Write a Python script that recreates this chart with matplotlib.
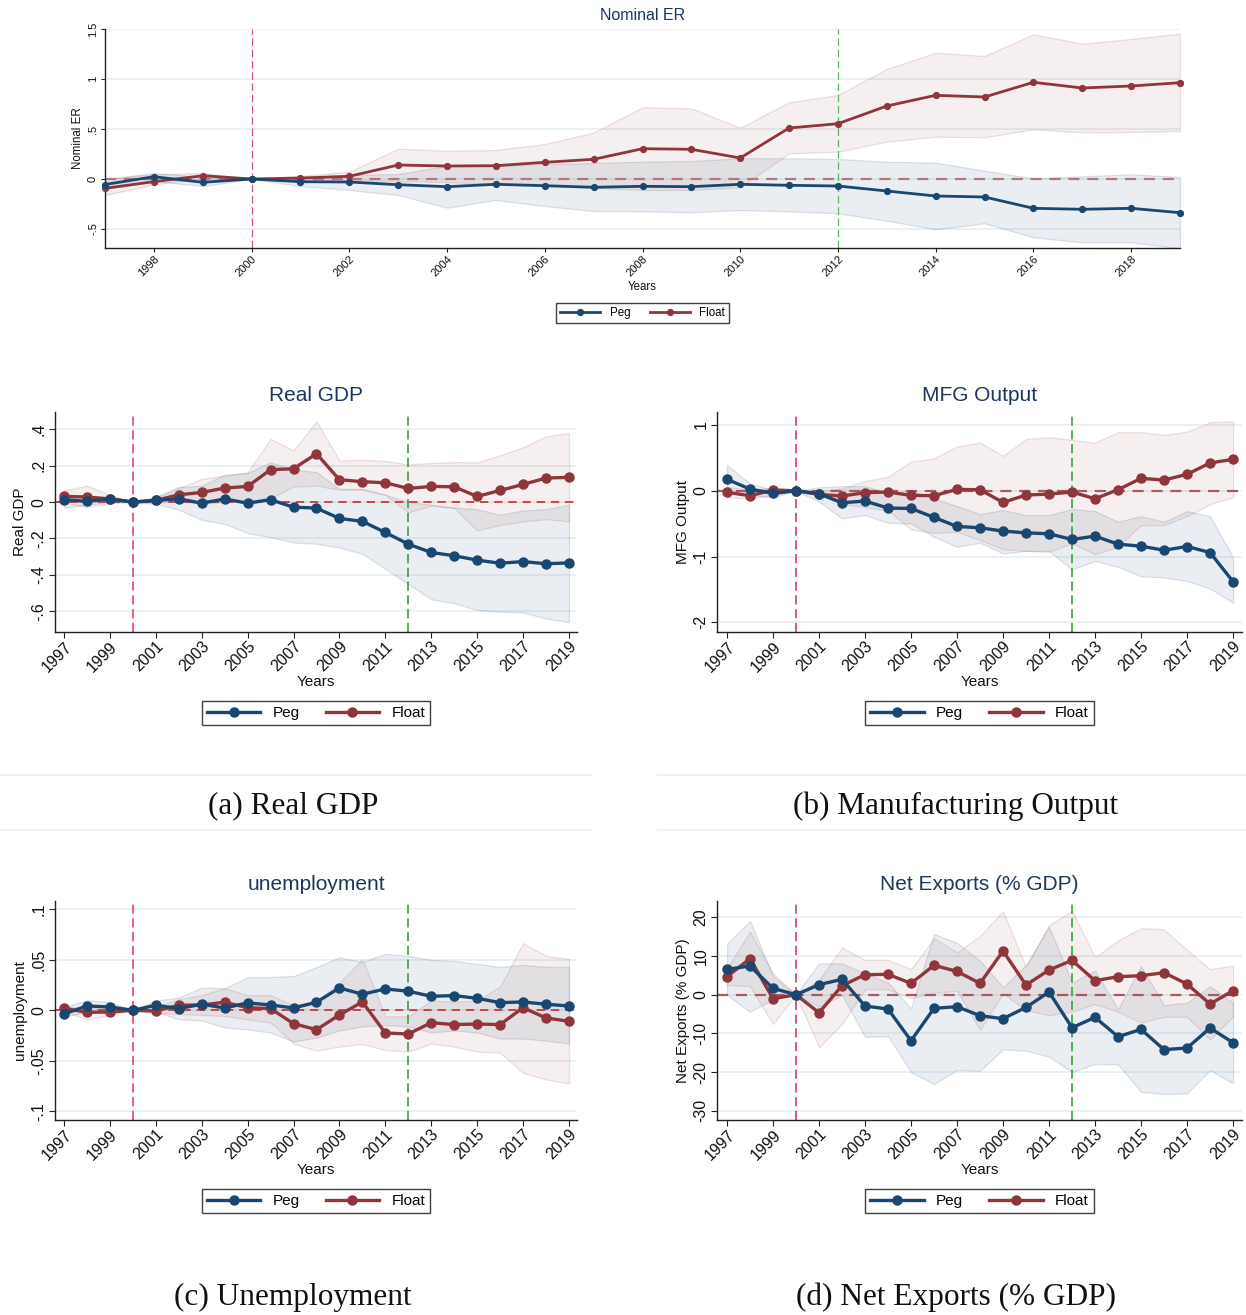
import matplotlib
matplotlib.use('Agg')
import matplotlib.pyplot as plt
from matplotlib.lines import Line2D

plt.rcParams['font.family'] = ['Liberation Sans', 'DejaVu Sans']

W, H = 1246, 1315
fig = plt.figure(figsize=(W / 100, H / 100), dpi=100)

years = list(range(1997, 2020))

# ---------------- Nominal ER ----------------
er_peg = [-0.055, 0.023, -0.033, 0.0, -0.027, -0.03, -0.057, -0.077, -0.053, -0.067, -0.083, -0.073,
          -0.077, -0.053, -0.063, -0.07, -0.12, -0.17, -0.18, -0.293, -0.303, -0.293, -0.337]
er_peg_hi = [0.0, 0.06, 0.02, 0.0, 0.01, 0.04, 0.05, 0.133, 0.13, 0.15, 0.16, 0.173,
             0.18, 0.207, 0.207, 0.2, 0.173, 0.163, 0.083, 0.007, 0.027, 0.047, 0.02]
er_peg_lo = [-0.1, -0.02, -0.07, 0.0, -0.07, -0.11, -0.16, -0.287, -0.21, -0.27, -0.32, -0.323,
             -0.333, -0.31, -0.323, -0.343, -0.417, -0.503, -0.443, -0.583, -0.633, -0.633, -0.693]
er_flt = [-0.093, -0.027, 0.033, 0.0, 0.01, 0.027, 0.14, 0.13, 0.133, 0.167, 0.197, 0.303,
          0.297, 0.21, 0.51, 0.553, 0.73, 0.837, 0.82, 0.967, 0.91, 0.93, 0.963]
er_flt_hi = [0.0, 0.047, 0.06, 0.0, 0.03, 0.073, 0.303, 0.283, 0.29, 0.35, 0.463, 0.717,
             0.707, 0.513, 0.767, 0.84, 1.1, 1.263, 1.23, 1.447, 1.353, 1.4, 1.453]
er_flt_lo = [-0.16, -0.053, 0.005, 0.0, -0.01, -0.01, -0.02, -0.03, -0.05, -0.06, -0.09, -0.11,
             -0.11, -0.083, 0.257, 0.273, 0.373, 0.423, 0.417, 0.497, 0.467, 0.47, 0.48]

# ---------------- Real GDP ----------------
gdp_peg = [0.013, 0.004, 0.017, 0.0, 0.009, 0.018, -0.006, 0.017, -0.006, 0.013, -0.028, -0.033,
           -0.09, -0.106, -0.167, -0.231, -0.277, -0.295, -0.319, -0.336, -0.327, -0.339, -0.334]
gdp_peg_hi = [0.04, 0.03, 0.03, 0.0, 0.03, 0.083, 0.09, 0.15, 0.16, 0.218, 0.178, 0.165,
              0.072, 0.072, 0.04, 0.0, -0.015, -0.03, -0.039, -0.07, -0.046, -0.039, -0.015]
gdp_peg_lo = [-0.03, -0.015, 0.0, 0.0, -0.01, -0.042, -0.097, -0.12, -0.17, -0.193, -0.222, -0.229,
              -0.25, -0.284, -0.367, -0.45, -0.534, -0.556, -0.593, -0.602, -0.607, -0.64, -0.66]
gdp_flt = [0.031, 0.028, 0.017, 0.0, 0.009, 0.04, 0.053, 0.077, 0.086, 0.178, 0.183, 0.266,
           0.123, 0.112, 0.106, 0.075, 0.086, 0.084, 0.031, 0.064, 0.097, 0.132, 0.136]
gdp_flt_hi = [0.064, 0.09, 0.04, 0.0, 0.022, 0.077, 0.127, 0.145, 0.163, 0.347, 0.284, 0.444,
              0.228, 0.233, 0.226, 0.207, 0.215, 0.22, 0.218, 0.257, 0.301, 0.361, 0.38]
gdp_flt_lo = [-0.002, -0.028, -0.006, 0.0, -0.005, 0.005, -0.01, 0.0, 0.005, 0.02, 0.085, 0.09,
              0.068, 0.068, 0.04, -0.057, -0.02, -0.033, -0.156, -0.125, -0.106, -0.094, -0.106]

# ---------------- MFG Output ----------------
mfg_peg = [0.173, 0.025, -0.04, 0.0, -0.046, -0.183, -0.157, -0.264, -0.269, -0.406, -0.543, -0.563,
           -0.614, -0.64, -0.655, -0.741, -0.69, -0.812, -0.843, -0.904, -0.848, -0.939, -1.381]
mfg_peg_hi = [0.39, 0.11, 0.01, 0.0, 0.05, 0.07, 0.07, -0.04, 0.01, -0.117, -0.233, -0.355,
              -0.294, -0.37, -0.37, -0.279, -0.31, -0.472, -0.386, -0.472, -0.31, -0.386, -1.015]
mfg_peg_lo = [-0.03, -0.066, -0.1, 0.0, -0.167, -0.42, -0.37, -0.487, -0.497, -0.7, -0.853, -0.79,
              -0.954, -0.914, -0.914, -1.198, -1.066, -1.157, -1.3, -1.32, -1.371, -1.487, -1.7]
mfg_flt = [-0.025, -0.076, 0.01, 0.0, -0.056, -0.081, -0.03, -0.02, -0.071, -0.076, 0.02, 0.015,
           -0.178, -0.066, -0.051, -0.02, -0.122, 0.015, 0.188, 0.162, 0.249, 0.421, 0.477]
mfg_flt_hi = [0.06, 0.01, 0.05, 0.0, 0.0, 0.035, 0.147, 0.213, 0.442, 0.492, 0.67, 0.731,
              0.528, 0.787, 0.812, 0.772, 0.731, 0.888, 0.888, 0.848, 0.898, 1.04, 1.056]
mfg_flt_lo = [-0.1, -0.117, -0.066, 0.0, -0.066, -0.2, -0.25, -0.3, -0.589, -0.64, -0.624, -0.75,
              -0.888, -0.914, -0.93, -0.8, -0.964, -0.853, -0.523, -0.523, -0.386, -0.203, -0.1]

# ---------------- Unemployment ----------------
un_peg = [-0.0036, 0.0043, 0.0033, 0.0, 0.005, 0.0017, 0.006, 0.0023, 0.0073, 0.0053, 0.0023, 0.008,
          0.0222, 0.0159, 0.0212, 0.0189, 0.0139, 0.0146, 0.0119, 0.0076, 0.0083, 0.006, 0.0043]
un_peg_hi = [0.003, 0.01, 0.008, 0.0, 0.0096, 0.0126, 0.0225, 0.022, 0.0328, 0.033, 0.034, 0.0427,
             0.0526, 0.048, 0.056, 0.054, 0.05, 0.049, 0.046, 0.043, 0.045, 0.043, 0.043]
un_peg_lo = [-0.006, -0.002, -0.001, 0.0, -0.001, -0.009, -0.010, -0.017, -0.019, -0.022, -0.031, -0.027,
             -0.020, -0.016, -0.0146, -0.016, -0.022, -0.020, -0.022, -0.028, -0.028, -0.030, -0.033]
un_flt = [0.002, -0.002, -0.0017, 0.0, -0.0007, 0.005, 0.0053, 0.008, 0.0026, 0.0017, -0.0132, -0.0192,
          -0.0046, 0.0083, -0.0225, -0.0235, -0.0123, -0.0142, -0.0136, -0.0142, 0.0026, -0.0076, -0.0109]
un_flt_hi = [0.004, 0.002, 0.002, 0.0, 0.0036, 0.011, 0.015, 0.022, 0.015, 0.015, 0.005, 0.009,
             0.027, 0.051, -0.006, -0.006, 0.0096, 0.0086, 0.0096, 0.0235, 0.0666, 0.054, 0.051]
un_flt_lo = [-0.001, -0.009, -0.0046, 0.0, -0.003, -0.0036, -0.0046, -0.0056, -0.009, -0.012, -0.033, -0.040,
             -0.036, -0.0335, -0.0394, -0.041, -0.033, -0.036, -0.041, -0.042, -0.062, -0.0685, -0.0725]

# ---------------- Net Exports ----------------
nx_peg = [6.55, 7.41, 1.64, 0.0, 2.59, 3.97, -2.93, -3.71, -11.9, -3.53, -3.1, -5.43,
          -6.21, -3.28, 0.69, -8.53, -5.86, -10.86, -8.97, -14.2, -13.8, -8.62, -12.4]
nx_peg_hi = [13.1, 19.1, 4.8, 0.0, 8.1, 8.1, 5.5, 3.1, -3.5, 15.7, 13.4, 8.8,
             1.9, 7.7, 17.6, 3.1, 6.2, -3.8, 7.4, -2.7, -2.1, 2.2, -2.1]
nx_peg_lo = [-0.1, -4.4, -1.2, 0.0, -3.1, -0.1, -10.9, -10.7, -20.0, -23.1, -19.5, -19.7,
             -14.1, -14.5, -16.0, -20.0, -17.9, -18.0, -25.1, -25.7, -25.5, -19.5, -22.9]
nx_flt = [4.66, 9.31, -1.03, 0.0, -4.66, 2.33, 5.17, 5.26, 2.93, 7.59, 6.03, 2.93,
          11.29, 2.5, 6.38, 8.88, 3.62, 4.66, 4.91, 5.69, 2.76, -2.41, 1.03]
nx_flt_hi = [6.8, 16.3, 5.5, 0.0, 3.8, 12.2, 9.0, 9.0, 6.6, 14.6, 10.9, 15.2,
             21.6, 7.1, 18.0, 21.6, 9.7, 14.0, 17.2, 16.9, 11.6, 6.6, 7.5]
nx_flt_lo = [2.5, 2.2, -7.6, 0.0, -13.6, -7.6, 1.4, 1.4, -0.9, 0.5, 1.0, -9.1,
             0.3, -4.0, -5.3, -4.4, -2.4, -4.4, -7.2, -5.7, -5.7, -11.6, -5.7]

series_names = ['Peg', 'Float']
captions = ['(a) Real GDP', '(b) Manufacturing Output', '(c) Unemployment', '(d) Net Exports (% GDP)']

NAVY = '#1a476f'
MAROON = '#90353b'
TITLE_C = '#1c365e'
GRID_C = '#e8f0f2'


def add_ax(l, t, r, b):
    return fig.add_axes([l / W, 1 - b / H, (r - l) / W, (b - t) / H])


def panel(box, data, xlim, ylim, yticks, ylabels, xticks, title, ylabel,
          title_y, years_y, leg_y, fs_title, fs_tick, fs_lab, lw, ms,
          hcol, hlw, vcol1, vcol2, vlw, tlen):
    l, t, r, b = box
    ax = add_ax(l, t, r, b)
    peg, peg_lo, peg_hi, flt, flt_lo, flt_hi = data
    ax.set_xlim(*xlim)
    ax.set_ylim(*ylim)
    for yv in yticks:
        ax.axhline(yv, color=GRID_C, lw=1.3, zorder=0)
    ax.fill_between(years, peg_lo, peg_hi, facecolor=(26/255, 71/255, 111/255, 0.09),
                    edgecolor=(26/255, 71/255, 111/255, 0.14), lw=0.9, zorder=1)
    ax.fill_between(years, flt_lo, flt_hi, facecolor=(144/255, 53/255, 59/255, 0.08),
                    edgecolor=(144/255, 53/255, 59/255, 0.14), lw=0.9, zorder=1)
    ax.axhline(0, color=hcol, lw=hlw, ls=(0, (5, 3.5)), zorder=2)
    ax.axvline(2000, color=vcol1, lw=vlw, ls=(0, (6, 3)), zorder=2)
    ax.axvline(2012, color=vcol2, lw=vlw, ls=(0, (6, 3)), zorder=2)
    ax.plot(years, peg, color=NAVY, lw=lw, marker='o', ms=ms, zorder=4, clip_on=False)
    ax.plot(years, flt, color=MAROON, lw=lw, marker='o', ms=ms, zorder=3, clip_on=False)
    for s in ['top', 'right']:
        ax.spines[s].set_visible(False)
    for s in ['left', 'bottom']:
        ax.spines[s].set_color('#222222')
        ax.spines[s].set_linewidth(1.0)
    ax.set_yticks(yticks)
    ax.set_yticklabels(ylabels, rotation=90, va='center', fontsize=fs_tick)
    ax.set_xticks(xticks)
    ax.set_xticklabels([str(x) for x in xticks], rotation=45, ha='right',
                       rotation_mode='anchor', fontsize=fs_tick)
    ax.tick_params(axis='both', direction='out', length=tlen, width=0.8, color='#222222', labelcolor='#111111')
    ax.tick_params(axis='x', pad=1)
    ax.tick_params(axis='y', pad=2)
    cx = (l + r) / 2
    fig.text(cx / W, 1 - title_y / H, title, ha='center', va='center', fontsize=fs_title, color=TITLE_C)
    fig.text(cx / W, 1 - years_y / H, 'Years', ha='center', va='center', fontsize=fs_lab, color='#111111')
    ax.set_ylabel(ylabel, fontsize=fs_lab, color='#111111', labelpad=3)
    h1 = Line2D([], [], color=NAVY, lw=lw, marker='o', ms=ms)
    h2 = Line2D([], [], color=MAROON, lw=lw, marker='o', ms=ms)
    leg = fig.legend([h1, h2], series_names, loc='center', bbox_to_anchor=(cx / W, 1 - leg_y / H),
                     ncol=2, frameon=True, fancybox=False, fontsize=fs_lab, handlelength=3.5,
                     numpoints=1, columnspacing=1.7, handletextpad=0.8, borderpad=0.35,
                     borderaxespad=0)
    leg.get_frame().set_edgecolor('#111111')
    leg.get_frame().set_linewidth(1.0)
    return ax


# top panel
panel((105, 29, 1180, 248),
      (er_peg, er_peg_lo, er_peg_hi, er_flt, er_flt_lo, er_flt_hi),
      (1997, 2019), (-0.69, 1.5), [-0.5, 0, 0.5, 1, 1.5], ['-.5', '0', '.5', '1', '1.5'],
      list(range(1998, 2019, 2)), 'Nominal ER', 'Nominal ER',
      16, 287, 313, 11.5, 8, 8.3, 2.0, 4.2,
      '#b5767a', 1.6, '#d9527a', '#5cb85c', 0.9, 3)

bot_x = list(range(1997, 2020, 2))
panel((55, 412, 577, 632), (gdp_peg, gdp_peg_lo, gdp_peg_hi, gdp_flt, gdp_flt_lo, gdp_flt_hi),
      (1996.61, 2019.35), (-0.714, 0.495), [-0.6, -0.4, -0.2, 0, 0.2, 0.4],
      ['-.6', '-.4', '-.2', '0', '.2', '.4'], bot_x, 'Real GDP', 'Real GDP',
      396, 682, 713, 15, 11.5, 11, 2.4, 6.5, '#cc2a2a', 1.2, '#e3336b', '#2a9a2a', 1.1, 4)

panel((717, 412, 1242, 632), (mfg_peg, mfg_peg_lo, mfg_peg_hi, mfg_flt, mfg_flt_lo, mfg_flt_hi),
      (1996.565, 2019.39), (-2.147, 1.196), [-2, -1, 0, 1], ['-2', '-1', '0', '1'],
      bot_x, 'MFG Output', 'MFG Output',
      396, 682, 713, 15, 11.5, 11, 2.4, 6.5, '#a85a5f', 1.6, '#d42a5a', '#2a9a2a', 1.1, 4)

panel((55, 900.7, 577, 1120), (un_peg, un_peg_lo, un_peg_hi, un_flt, un_flt_lo, un_flt_hi),
      (1996.61, 2019.35), (-0.1088, 0.1087), [-0.1, -0.05, 0, 0.05, 0.1],
      ['-.1', '-.05', '0', '.05', '.1'], bot_x, 'unemployment', 'unemployment',
      884, 1170, 1201, 15, 11.5, 11, 2.4, 6.5, '#cc2a2a', 1.2, '#e3336b', '#2a9a2a', 1.1, 4)

panel((717, 900.7, 1242, 1120), (nx_peg, nx_peg_lo, nx_peg_hi, nx_flt, nx_flt_lo, nx_flt_hi),
      (1996.565, 2019.39), (-32.4, 24.3), [-30, -20, -10, 0, 10, 20],
      ['-30', '-20', '-10', '0', '10', '20'], bot_x, 'Net Exports (% GDP)', 'Net Exports (% GDP)',
      884, 1170, 1201, 15, 11.5, 11, 2.4, 6.5, '#a85a5f', 1.6, '#d42a5a', '#2a9a2a', 1.1, 4)

# separators and captions
for y in (775, 830):
    fig.add_artist(Line2D([0, 592 / W], [1 - y / H, 1 - y / H], color='#eef2f2', lw=1.5))
    fig.add_artist(Line2D([658 / W, 1], [1 - y / H, 1 - y / H], color='#eef2f2', lw=1.5))

cap_pos = [(293, 806), (956, 806), (293, 1297), (956, 1297)]
for (cx, cy), txt in zip(cap_pos, captions):
    fig.text(cx / W, 1 - cy / H, txt, ha='center', va='center', fontsize=22.5,
             family=['Liberation Serif', 'DejaVu Serif'], color='#111111')

fig.savefig('out.png', dpi=100)
